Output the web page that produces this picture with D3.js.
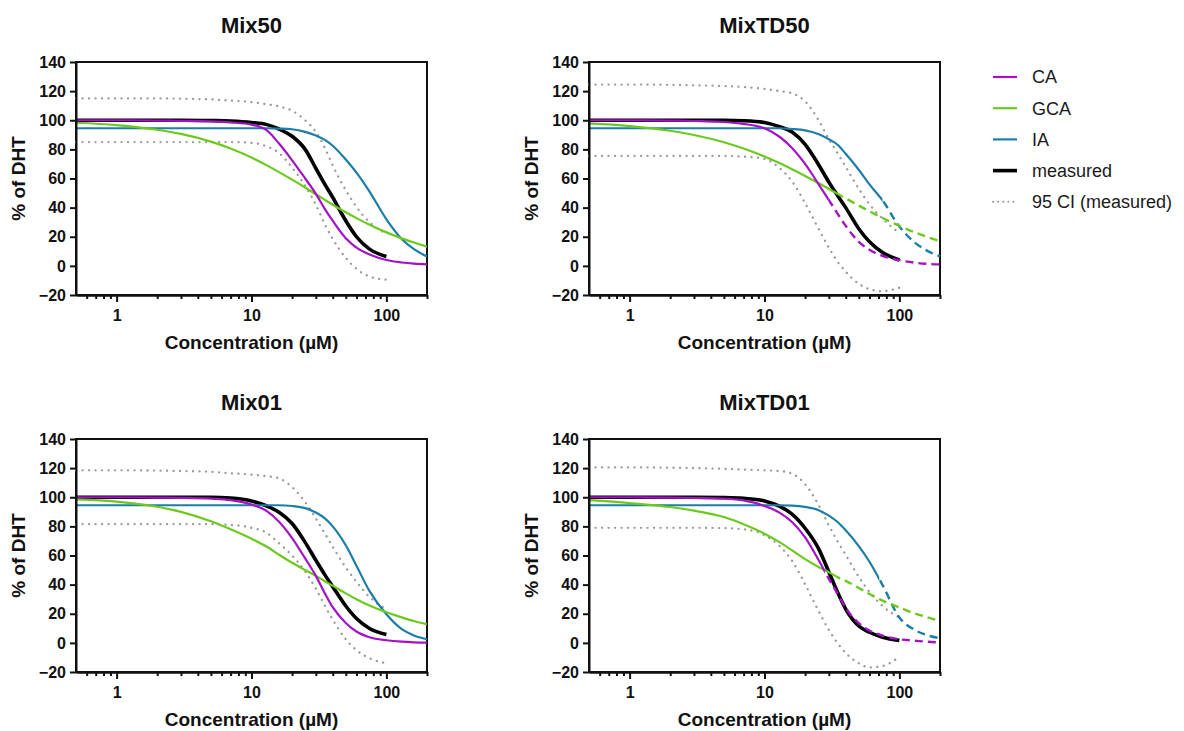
<!DOCTYPE html>
<html>
<head>
<meta charset="utf-8">
<script src="https://cdn.jsdelivr.net/npm/d3@7"></script>
<style>
body { margin: 0; background: #fff; }
text { font-family: "Liberation Sans", Arial, sans-serif; }
</style>
</head>
<body>
<svg id="chart" width="1184" height="731"></svg>
<script>
// concentrations (uM) the curves were read at
var conc = [0.5, 1, 2, 3, 5, 7, 10, 13, 16, 20, 25, 30, 35, 40, 50, 60, 75, 100, 130, 160, 200];
// measured fit and its 95 CI stop at 100 uM (first 18 concentrations)

// Mix50
var mix50_CA  = [100, 100, 99.8, 99.6, 99.2, 98.5, 97, 93, 84, 72.5, 60, 49.5, 39, 31, 19, 12.5, 7.8, 4, 2.3, 1.5, 1];
var mix50_GCA = [98.3, 96.7, 93.5, 90.6, 85.3, 80.6, 74.4, 69, 64.4, 59.2, 53.8, 49.2, 45.3, 42, 36.8, 32.8, 28.2, 23, 18.9, 16, 13.2];
var mix50_IA  = [94.5, 94.5, 94.5, 94.5, 94.5, 94.5, 94.5, 94.5, 94.3, 93.8, 92, 89.5, 86.5, 82.5, 73, 64, 51, 32, 18.5, 11.5, 6.5];
var mix50_meas = [100, 100, 100, 100, 99.8, 99.5, 98.5, 97, 94, 89, 80, 67, 56, 47, 31, 20, 11.5, 6.5];
var mix50_ciHi = [115, 115, 115, 114.8, 114.3, 113.5, 112.5, 111, 109.5, 106.5, 100, 92, 81, 69, 52, 40.5, 30, 22];
var mix50_ciLo = [85, 85, 85, 85, 85, 85, 84.5, 82, 77.5, 67.5, 55, 42, 28.5, 18.5, 5.5, -2, -7.3, -9.5];

// MixTD50
var td50_CA  = [100, 100, 99.8, 99.5, 98.8, 97.5, 94.5, 88.5, 81, 70, 56.5, 45.2, 35.5, 27.5, 16.5, 11, 6.8, 3.9, 2.2, 1.4, 1];
var td50_GCA = [97.8, 96, 92.8, 89.9, 84.9, 80.6, 75.1, 70.4, 66.3, 61.7, 56.9, 52.8, 49.4, 46.4, 41.4, 37.5, 32.9, 27.5, 23, 19.9, 16.9];
var td50_IA  = [94.5, 94.5, 94.5, 94.5, 94.5, 94.5, 94.5, 94.5, 94, 93, 90.5, 87, 83, 77, 66, 56, 45, 27, 16, 10.5, 6.5];
var td50_meas = [100, 100, 100, 100, 100, 99.7, 98.5, 95.5, 92, 83.5, 70, 57.5, 48, 40, 25.5, 16.5, 9.2, 4];
var td50_ciHi = [124.5, 124.5, 124.3, 124, 123.5, 122.8, 121.5, 120, 118.5, 113, 100.5, 87, 77, 68, 53, 42.3, 32.4, 22.5];
var td50_ciLo = [75.5, 75.5, 75.5, 75.5, 75.5, 75, 73.5, 67, 58, 43, 26, 12.5, 2.5, -4, -12.3, -16, -17.4, -15];
var td50_cut = [30, 38, 75]; // CA, GCA, IA: solid up to here, dashed beyond

// Mix01
var mix01_CA  = [100, 100, 99.8, 99.6, 99, 98, 95, 90.5, 83.2, 72, 58, 46, 34, 24.5, 13.7, 7.8, 3.9, 1.8, 0.8, 0.4, 0.2];
var mix01_GCA = [98.5, 97, 93.5, 90, 83.5, 78, 71.5, 66, 60.5, 55, 50, 46, 42.3, 39.2, 34, 30, 25.6, 21, 17.5, 15, 12.8];
var mix01_IA  = [94.5, 94.5, 94.5, 94.5, 94.5, 94.5, 94.5, 94.5, 94.5, 94, 92.5, 89.5, 85.5, 80, 67, 53, 35.5, 19.6, 9.4, 5.1, 2.5];
var mix01_meas = [100, 100, 100, 100, 100, 99.5, 97.5, 94, 89.7, 82, 69, 56.7, 46.7, 38.6, 25.3, 16.7, 9.9, 5.8];
var mix01_ciHi = [118.5, 118.5, 118.3, 118, 117.5, 116.5, 115.5, 114.5, 113, 107, 96.7, 85.4, 75, 66, 51.7, 42, 31.5, 23];
var mix01_ciLo = [81.5, 81.5, 81.5, 81.5, 81.5, 81, 79, 75.5, 68.4, 60, 49, 37.2, 25.5, 16, 2.5, -5, -10.5, -14];

// MixTD01
var td01_CA  = [100, 100, 99.8, 99.5, 99, 97.8, 94, 89.3, 83, 72.4, 57.4, 44, 33.4, 24, 13.5, 8.5, 5, 2.5, 1.5, 0.8, 0.3];
var td01_GCA = [98, 96, 93.3, 90.8, 86.4, 81.5, 75, 69, 63.5, 57.5, 52.3, 48.5, 45, 42.6, 37.7, 33.6, 29, 24.3, 20.2, 17.7, 15];
var td01_IA  = [94.5, 94.5, 94.5, 94.5, 94.5, 94.5, 94.5, 94.5, 94.3, 93.4, 91.3, 87.4, 82.8, 77.3, 66.4, 55.7, 39.7, 17.4, 8.9, 5.3, 3.2];
var td01_meas = [100, 100, 100, 100, 99.8, 99.3, 97.5, 93.7, 88.4, 78.7, 65.2, 48.7, 34.2, 23.2, 11.6, 7.3, 3.9, 1.7];
var td01_ciHi = [120.5, 120.5, 120.3, 120, 119.5, 119, 118.5, 118, 116.2, 109, 95.2, 80.7, 69.3, 60.4, 45.3, 35, 25.3, 17.5];
var td01_ciLo = [79, 79, 79, 79, 78.8, 78, 74, 66.3, 56.4, 40.2, 22.4, 8.8, -0.4, -6.9, -14, -16.9, -15.9, -9.5];
var td01_cut = [28, 34, 71];

var panelTitles = ["Mix50", "MixTD50", "Mix01", "MixTD01"];
var legendLabels = ["CA", "GCA", "IA", "measured", "95 CI (measured)"];
var yTicks = [-20, 0, 20, 40, 60, 80, 100, 120, 140];
var xMajor = [1, 10, 100];
var xMinor = [0.6, 0.7, 0.8, 0.9, 2, 3, 4, 5, 6, 7, 8, 9, 20, 30, 40, 50, 60, 70, 80, 90, 200];

var colCA = "#a412c6", colGCA = "#6cc91e", colIA = "#1b7da8", colCI = "#9a9a9a";

var panels = [
	{title: panelTitles[0], left: 76, top: 62, models: [mix50_CA, mix50_GCA, mix50_IA], meas: mix50_meas, hi: mix50_ciHi, lo: mix50_ciLo, cut: null},
	{title: panelTitles[1], left: 589, top: 62, models: [td50_CA, td50_GCA, td50_IA], meas: td50_meas, hi: td50_ciHi, lo: td50_ciLo, cut: td50_cut},
	{title: panelTitles[2], left: 76, top: 439, models: [mix01_CA, mix01_GCA, mix01_IA], meas: mix01_meas, hi: mix01_ciHi, lo: mix01_ciLo, cut: null},
	{title: panelTitles[3], left: 589, top: 439, models: [td01_CA, td01_GCA, td01_IA], meas: td01_meas, hi: td01_ciHi, lo: td01_ciLo, cut: td01_cut}
];
var modelColors = [colCA, colGCA, colIA];

var svg = d3.select("#chart");
var pw = 351, ph = 233;

function pts(vals) {
	return vals.map(function(v, k) { return [conc[k], v]; });
}

panels.forEach(function(p, i) {
	var x = d3.scaleLog().domain([0.5, 200]).range([0, pw]);
	var y = d3.scaleLinear().domain([-20, 140]).range([ph, 0]);

	var line = d3.line()
		.x(function(d) { return x(d[0]); })
		.y(function(d) { return y(d[1]); })
		.curve(d3.curveMonotoneX);

	var g = svg.append("g")
		.attr("transform", "translate(" + [p.left, p.top] + ")");

	// frame
	g.append("rect")
		.attr("width", pw).attr("height", ph)
		.attr("fill", "none")
		.attr("stroke", "#111")
		.attr("stroke-width", 2);

	// 95 CI
	[p.hi, p.lo].forEach(function(vals) {
		g.append("path")
			.attr("d", line(pts(vals)))
			.attr("fill", "none")
			.attr("stroke", colCI)
			.attr("stroke-width", 2.3)
			.attr("stroke-linecap", "round")
			.attr("stroke-dasharray", "0.1,6.4");
	});

	// measured
	g.append("path")
		.attr("d", line(pts(p.meas)))
		.attr("fill", "none")
		.attr("stroke", "#000")
		.attr("stroke-width", 3.6);

	// predictions, drawn IA, GCA, CA so CA ends on top
	[2, 1, 0].forEach(function(s) {
		var d = line(pts(p.models[s]));
		if (!p.cut) {
			g.append("path")
				.attr("d", d)
				.attr("fill", "none")
				.attr("stroke", modelColors[s])
				.attr("stroke-width", 2.2);
			return;
		}
		var cx = x(p.cut[s]);
		var idL = "cl" + i + "_" + s, idR = "cr" + i + "_" + s;
		var defs = g.append("defs");
		defs.append("clipPath").attr("id", idL)
			.append("rect").attr("x", -5).attr("y", -20).attr("width", cx + 5).attr("height", ph + 40);
		defs.append("clipPath").attr("id", idR)
			.append("rect").attr("x", cx).attr("y", -20).attr("width", pw - cx + 5).attr("height", ph + 40);
		g.append("path")
			.attr("d", d)
			.attr("clip-path", "url(#" + idL + ")")
			.attr("fill", "none")
			.attr("stroke", modelColors[s])
			.attr("stroke-width", 2.2);
		g.append("path")
			.attr("d", d)
			.attr("clip-path", "url(#" + idR + ")")
			.attr("fill", "none")
			.attr("stroke", modelColors[s])
			.attr("stroke-width", 2.4)
			.attr("stroke-dasharray", "8,5");
	});

	// axes
	var yAxis = g.append("g")
		.call(d3.axisLeft(y).tickValues(yTicks).tickSize(6).tickPadding(4).tickSizeOuter(0).tickFormat(d3.format("d")));
	var xMinorAxis = g.append("g")
		.attr("transform", "translate(0," + ph + ")")
		.call(d3.axisBottom(x).tickValues(xMinor).tickSize(4).tickSizeOuter(0).tickFormat(""));
	var xAxis = g.append("g")
		.attr("transform", "translate(0," + ph + ")")
		.call(d3.axisBottom(x).tickValues(xMajor).tickSize(7).tickPadding(8).tickSizeOuter(0).tickFormat(d3.format("d")));

	[yAxis, xMinorAxis, xAxis].forEach(function(a) {
		a.select(".domain").attr("stroke", "#111").attr("stroke-width", 2);
		a.selectAll(".tick line").attr("stroke", "#111").attr("stroke-width", 2);
		a.selectAll(".tick text")
			.attr("fill", "#111")
			.style("font-family", "'Liberation Sans', Arial, sans-serif")
			.style("font-size", "16px")
			.style("font-weight", "bold");
	});

	g.append("text")
		.attr("x", pw / 2)
		.attr("y", -29)
		.attr("text-anchor", "middle")
		.style("font-size", "22px")
		.style("font-weight", "bold")
		.attr("fill", "#111")
		.text(p.title);

	g.append("text")
		.attr("x", pw / 2)
		.attr("y", ph + 54)
		.attr("text-anchor", "middle")
		.style("font-size", "19px")
		.style("font-weight", "bold")
		.attr("fill", "#111")
		.text("Concentration (\u00b5M)");

	g.append("text")
		.attr("transform", "translate(" + [-51, ph / 2] + ") rotate(-90)")
		.attr("text-anchor", "middle")
		.style("font-size", "19px")
		.style("font-weight", "bold")
		.attr("fill", "#111")
		.text("% of DHT");
});

// legend
var legendStyles = [
	{color: colCA, width: 2.2, dash: null},
	{color: colGCA, width: 2.2, dash: null},
	{color: colIA, width: 2.2, dash: null},
	{color: "#000", width: 3.6, dash: null},
	{color: colCI, width: 2, dash: "0.1,5"}
];
var legend = svg.append("g").attr("transform", "translate(993,77)");
legendLabels.forEach(function(lab, k) {
	var row = legend.append("g").attr("transform", "translate(0," + (k * 31.2) + ")");
	var ln = row.append("line")
		.attr("x1", 0).attr("x2", 24)
		.attr("stroke", legendStyles[k].color)
		.attr("stroke-width", legendStyles[k].width);
	if (legendStyles[k].dash) {
		ln.attr("stroke-dasharray", legendStyles[k].dash).attr("stroke-linecap", "round");
	}
	row.append("text")
		.attr("x", 39)
		.attr("dy", "0.36em")
		.style("font-size", "18px")
		.attr("fill", "#1a1a1a")
		.text(lab);
});
</script>
</body>
</html>
